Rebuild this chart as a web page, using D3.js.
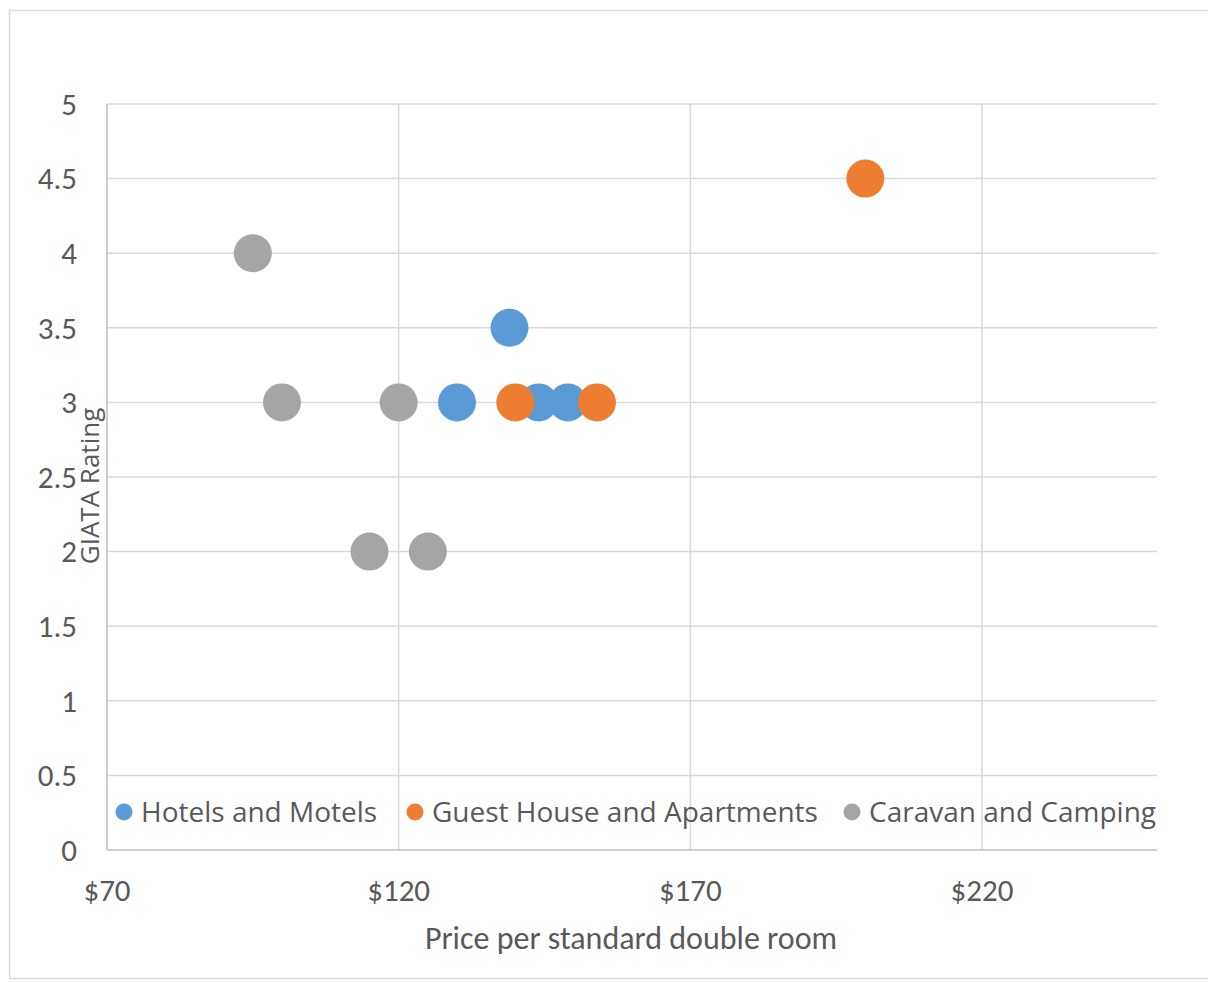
<!DOCTYPE html>
<html>
<head>
<meta charset="utf-8">
<script src="https://cdn.jsdelivr.net/npm/d3@7"></script>
<style>
  body { margin: 0; background: #fff; }
  text { font-family: Carlito, Calibri, Lato, sans-serif; fill: #595959; }
  text.ui { font-family: "Open Sans", "Segoe UI", sans-serif; }
</style>
</head>
<body>
<div id="chart"></div>
<script>
// series, drawn in this order (later ones sit on top)
const seriesNames = ["Hotels and Motels", "Guest House and Apartments", "Caravan and Camping"];
const seriesColors = ["#5b9bd5", "#ed7d31", "#a5a5a5"];
const hotelsPrice = [130, 139, 144, 149];
const hotelsRating = [3, 3.5, 3, 3];
const guestPrice = [140, 154, 200];
const guestRating = [3, 3, 4.5];
const caravanPrice = [95, 100, 120, 115, 125];
const caravanRating = [4, 3, 3, 2, 2];
const xTicks = [70, 120, 170, 220];
const yTicks = [0, 0.5, 1, 1.5, 2, 2.5, 3, 3.5, 4, 4.5, 5];

function drawChart() {
    const width = 1208, height = 982;
    const left = 107, right = 1157, top = 104, bottom = 850;

    const svg = d3.select("#chart").append("svg")
        .attr("width", width)
        .attr("height", height);

    // chart border
    svg.append("rect")
        .attr("x", 9.5).attr("y", 10.5)
        .attr("width", 1240).attr("height", 968)
        .attr("fill", "none").attr("stroke", "#d9d9d9").attr("stroke-width", 1.5);

    const x = d3.scaleLinear().domain([70, 250]).range([left, right]);
    const y = d3.scaleLinear().domain([0, 5]).range([bottom, top]);

    // gridlines
    svg.append("g").selectAll("line")
        .data(yTicks.filter(d => d > 0))
        .enter().append("line")
        .attr("x1", left).attr("x2", right)
        .attr("y1", d => y(d)).attr("y2", d => y(d))
        .attr("stroke", "#d9d9d9").attr("stroke-width", 1.5);
    svg.append("g").selectAll("line")
        .data(xTicks.filter(d => d > 70))
        .enter().append("line")
        .attr("x1", d => x(d)).attr("x2", d => x(d))
        .attr("y1", top).attr("y2", bottom)
        .attr("stroke", "#d9d9d9").attr("stroke-width", 1.5);

    // axis lines
    svg.append("line")
        .attr("x1", left).attr("x2", right).attr("y1", bottom).attr("y2", bottom)
        .attr("stroke", "#bfbfbf").attr("stroke-width", 1.5);
    svg.append("line")
        .attr("x1", left).attr("x2", left).attr("y1", top).attr("y2", bottom)
        .attr("stroke", "#bfbfbf").attr("stroke-width", 1.5);

    // tick labels
    svg.append("g").selectAll("text")
        .data(yTicks)
        .enter().append("text")
        .attr("x", 77)
        .attr("y", d => y(d))
        .attr("dy", "0.35em")
        .attr("text-anchor", "end")
        .style("font-size", "31px")
        .text(d => d);
    svg.append("g").selectAll("text")
        .data(xTicks)
        .enter().append("text")
        .attr("x", d => x(d))
        .attr("y", 890)
        .attr("dy", "0.35em")
        .attr("text-anchor", "middle")
        .style("font-size", "31px")
        .text(d => "$" + d);

    // axis titles
    svg.append("text")
        .attr("x", 631).attr("y", 938)
        .attr("dy", "0.35em")
        .attr("text-anchor", "middle")
        .style("font-size", "32px")
        .text("Price per standard double room");
    svg.append("text")
        .attr("class", "ui")
        .attr("transform", "translate(90,486)rotate(-90)")
        .attr("dy", "0.35em")
        .attr("text-anchor", "middle")
        .style("font-size", "26px")
        .text("GIATA Rating");

    // points
    const series = [
        { price: hotelsPrice, rating: hotelsRating },
        { price: guestPrice, rating: guestRating },
        { price: caravanPrice, rating: caravanRating }
    ];
    series.forEach(function(s, i) {
        svg.append("g").selectAll("circle")
            .data(s.price.map((p, j) => [p, s.rating[j]]))
            .enter().append("circle")
            .attr("cx", d => x(d[0]))
            .attr("cy", d => y(d[1]))
            .attr("r", 19)
            .attr("fill", seriesColors[i]);
    });

    // legend
    const legendX = [124, 415, 852];
    const legend = svg.append("g").selectAll("g")
        .data(seriesNames)
        .enter().append("g")
        .attr("transform", (d, i) => "translate(" + legendX[i] + ",812)");
    legend.append("circle")
        .attr("r", 8.5)
        .attr("fill", (d, i) => seriesColors[i]);
    legend.append("text")
        .attr("class", "ui")
        .attr("x", 17)
        .attr("dy", "0.35em")
        .style("font-size", "28px")
        .text(d => d);
}

document.addEventListener("DOMContentLoaded", drawChart);
</script>
</body>
</html>
